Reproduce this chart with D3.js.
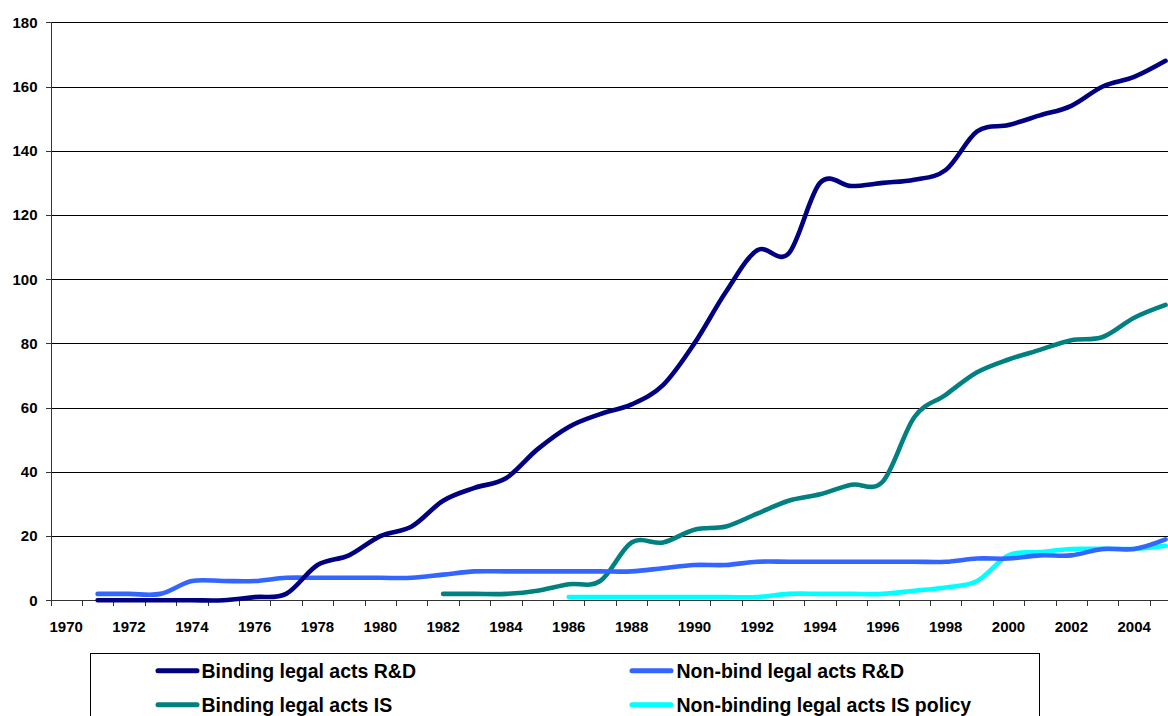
<!DOCTYPE html>
<html><head><meta charset="utf-8">
<script src="https://cdn.jsdelivr.net/npm/d3@7"></script>
<style>
html,body{margin:0;padding:0;background:#fff;}
svg{display:block;font-family:"Liberation Sans",Arial,sans-serif;font-weight:bold;}
</style></head>
<body>
<svg id="chart" width="1168" height="716"></svg>
<script>
const years = [1970,1971,1972,1973,1974,1975,1976,1977,1978,1979,1980,1981,1982,1983,1984,1985,1986,1987,1988,1989,1990,1991,1992,1993,1994,1995,1996,1997,1998,1999,2000,2001,2002,2003,2004,2005];
const tickLabels = [1970,1972,1974,1976,1978,1980,1982,1984,1986,1988,1990,1992,1994,1996,1998,2000,2002,2004];
const yTicks = [0,20,40,60,80,100,120,140,160,180];
const seriesNames = ["Binding legal acts R&D","Non-bind legal acts R&D","Binding legal acts IS","Non-binding legal acts IS policy"];
const bindingRD = [null,0,0,0,0,0,1,2,11,14,20,23,31,35,38,47,54,58,61,67,80,96,109,108,130,129,130,131,134,146,148,151,154,160,163,168];
const nonBindRD = [null,2,2,2,6,6,6,7,7,7,7,7,8,9,9,9,9,9,9,10,11,11,12,12,12,12,12,12,12,13,13,14,14,16,16,19];
const bindingIS = [null,null,null,null,null,null,null,null,null,null,null,null,2,2,2,3,5,6,18,18,22,23,27,31,33,36,37,57,64,71,75,78,81,82,88,92];
const nonBindIS = [null,null,null,null,null,null,null,null,null,null,null,null,null,null,null,null,1,1,1,1,1,1,1,2,2,2,2,3,4,6,14,15,16,16,16,17];
const colors = ["#000080","#3366FF","#008080","#00FFFF"];

const svg = d3.select("#chart");
const mLeft = 50.5, mTop = 22.3, mBottom = 600.3;
const bandW = 31.41;
const x = d3.scaleBand().domain(years).range([mLeft, mLeft + years.length*bandW]).paddingInner(0).paddingOuter(0);
const y = d3.scaleLinear().domain([0,180]).range([mBottom, mTop]);

// gridlines
svg.append("g").selectAll("line").data(yTicks.filter(d=>d>0)).join("line")
  .attr("x1", mLeft).attr("x2", 1168)
  .attr("y1", d=>Math.round(y(d))+0.5).attr("y2", d=>Math.round(y(d))+0.5)
  .attr("stroke","#000").attr("stroke-width",1).attr("shape-rendering","crispEdges");

// y axis
const yAxis = d3.axisLeft(y).tickValues(yTicks).tickSize(5).tickPadding(8).tickFormat(d3.format("d"));
const gy = svg.append("g").attr("transform",`translate(${mLeft},0)`).call(yAxis);
gy.select(".domain").attr("stroke","#333").attr("shape-rendering","crispEdges");
gy.selectAll(".tick line").attr("stroke","#333").attr("shape-rendering","crispEdges");
gy.selectAll(".tick text").attr("font-size",15).attr("font-weight","bold").attr("fill","#000")
  .attr("font-family","Liberation Sans, Arial, sans-serif");

// x axis: ticks at band boundaries, labels at band centers
const gx = svg.append("g").attr("transform",`translate(0,${mBottom})`);
gx.append("line").attr("x1",mLeft).attr("x2",1168).attr("y1",0.5).attr("y2",0.5)
  .attr("stroke","#333").attr("shape-rendering","crispEdges");
gx.selectAll("line.tk").data(years).join("line").attr("class","tk")
  .attr("x1",d=>Math.round(x(d))+0.5).attr("x2",d=>Math.round(x(d))+0.5)
  .attr("y1",0).attr("y2",6).attr("stroke","#333").attr("shape-rendering","crispEdges");
gx.selectAll("text").data(tickLabels).join("text")
  .attr("x",d=>x(d)+x.bandwidth()/2).attr("y",32)
  .attr("text-anchor","middle").attr("font-size",15).attr("fill","#000").text(d=>d);

// lines
const allSeries = [bindingRD, nonBindRD, bindingIS, nonBindIS];
const line = d3.line()
  .defined(d=>d.v!=null)
  .x(d=>x(d.year)+x.bandwidth()/2)
  .y(d=>y(d.v))
  .curve(d3.curveCatmullRom.alpha(0));
const drawOrder = [3,2,1,0];
drawOrder.forEach(i=>{
  const data = years.map((yr,j)=>({year:yr, v:allSeries[i][j]}));
  svg.append("path").datum(data).attr("d",line)
    .attr("fill","none").attr("stroke",colors[i]).attr("stroke-width",4.6)
    .attr("stroke-linejoin","round").attr("stroke-linecap","round");
});

// legend
const lg = svg.append("g");
lg.append("rect").attr("x",90.5).attr("y",653.5).attr("width",949).attr("height",80)
  .attr("fill","#fff").attr("stroke","#000").attr("stroke-width",1);
const legPos = [[158,201.5,677.7],[632,676.5,677.7],[158,201.5,711.7],[632,676.5,711.7]];
seriesNames.forEach((name,i)=>{
  const [lx,tx,by] = legPos[i];
  lg.append("line").attr("x1",lx).attr("x2",lx+39).attr("y1",by-7).attr("y2",by-7)
    .attr("stroke",colors[i]).attr("stroke-width",5).attr("stroke-linecap","round");
  lg.append("text").attr("x",tx).attr("y",by).attr("font-size",19.5).attr("fill","#000").text(name);
});
</script>
</body></html>
